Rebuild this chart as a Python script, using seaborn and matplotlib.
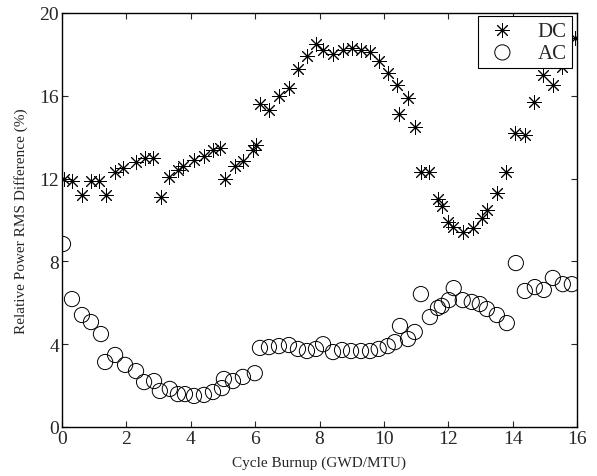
import numpy as np
import pandas as pd
import matplotlib
matplotlib.use("Agg")
import matplotlib.pyplot as plt
import seaborn as sns

dc_x = [0.06, 0.31, 0.62, 0.90, 1.15, 1.37, 1.65, 1.89, 2.30, 2.58, 2.83, 3.07, 3.32, 3.60, 3.76,
        4.10, 4.41, 4.69, 4.91, 5.06, 5.37, 5.62, 5.93, 6.02, 6.15, 6.43, 6.74, 7.05, 7.33, 7.61,
        7.89, 8.11, 8.42, 8.73, 9.01, 9.29, 9.57, 9.84, 10.12, 10.40, 10.47, 10.75, 10.96, 11.15,
        11.40, 11.68, 11.80, 11.99, 12.14, 12.45, 12.76, 13.04, 13.20, 13.51, 13.79, 14.07, 14.38,
        14.66, 14.94, 15.25, 15.53, 15.95]
dc_y = [12.0, 11.9, 11.2, 11.9, 11.9, 11.2, 12.3, 12.5, 12.8, 13.0, 13.0, 11.1, 12.1, 12.4, 12.6,
        12.9, 13.1, 13.4, 13.5, 12.0, 12.6, 12.85, 13.4, 13.6, 15.6, 15.3, 16.0, 16.4, 17.3, 17.9,
        18.5, 18.2, 18.0, 18.2, 18.3, 18.2, 18.1, 17.7, 17.1, 16.5, 15.1, 15.9, 14.5, 12.3,
        12.3, 11.0, 10.7, 9.9, 9.66, 9.4, 9.6, 10.1, 10.5, 11.3, 12.3, 14.2, 14.1,
        15.7, 17.0, 16.5, 17.4, 18.8]

ac_x = [0.03, 0.31, 0.62, 0.90, 1.21, 1.34, 1.65, 1.96, 2.30, 2.55, 2.86, 3.04, 3.35, 3.60, 3.82,
        4.10, 4.41, 4.69, 4.97, 5.03, 5.31, 5.62, 5.99, 6.15, 6.43, 6.74, 7.05, 7.33, 7.61, 7.89,
        8.11, 8.42, 8.70, 8.98, 9.29, 9.57, 9.84, 10.12, 10.34, 10.50, 10.75, 10.96, 11.15, 11.43,
        11.68, 11.80, 12.02, 12.17, 12.45, 12.73, 12.98, 13.20, 13.51, 13.82, 14.10, 14.38, 14.69,
        14.97, 15.25, 15.56, 15.84]
ac_y = [8.84, 6.18, 5.41, 5.07, 4.49, 3.14, 3.48, 3.0, 2.7, 2.17, 2.22, 1.74, 1.84, 1.59, 1.59,
        1.5, 1.55, 1.69, 1.88, 2.32, 2.22, 2.42, 2.6, 3.82, 3.86, 3.91, 3.96, 3.77, 3.67, 3.77,
        4.0, 3.62, 3.72, 3.67, 3.67, 3.67, 3.77, 3.91, 4.1, 4.88, 4.25, 4.59, 6.42, 5.31,
        5.75, 5.85, 6.13, 6.71, 6.13, 6.04, 5.94, 5.7, 5.41, 5.02, 7.92, 6.57, 6.76,
        6.62, 7.2, 6.9, 6.9]

x_ticks = [0, 2, 4, 6, 8, 10, 12, 14, 16]
y_ticks = [0, 4, 8, 12, 16, 20]

sns.set_style("ticks")
plt.rcParams['font.family'] = ['Liberation Serif', 'DejaVu Serif']

fig = plt.figure(figsize=(5.97, 4.77), dpi=100)
ax = fig.add_axes([62/597, 1-428/477, (577-62)/597, (428-14)/477])

dc = pd.DataFrame({"x": dc_x, "y": dc_y})
ac = pd.DataFrame({"x": ac_x, "y": ac_y})

sns.scatterplot(data=dc, x="x", y="y", ax=ax, marker=(8, 2, 0), s=100,
                color="black", linewidth=0.7, label="DC", zorder=3)
sns.scatterplot(data=ac, x="x", y="y", ax=ax, marker="o", s=120,
                facecolors="none", edgecolor="black", linewidth=0.7, label="AC", zorder=3)

ax.set_xlim(0, 16)
ax.set_ylim(0, 20)
ax.set_xticks(x_ticks)
ax.set_yticks(y_ticks)
ax.set_xticklabels([str(t) for t in x_ticks], fontsize=14)
ax.set_yticklabels([str(t) for t in y_ticks], fontsize=14)
ax.tick_params(direction="in", length=4, width=0.8, top=True, right=True, pad=2)
for sp in ax.spines.values():
    sp.set_visible(True)
    sp.set_linewidth(1.0)
    sp.set_color("black")

ax.set_xlabel("Cycle Burnup (GWD/MTU)", fontsize=11, labelpad=6)
ax.set_ylabel("Relative Power RMS Difference (%)", fontsize=11, labelpad=8)

leg = ax.legend(loc="upper right", fontsize=15, frameon=True, fancybox=False,
                edgecolor="black", framealpha=1, borderpad=0.25, handletextpad=0.8,
                labelspacing=0.12, borderaxespad=0.0, handlelength=1.8,
                bbox_to_anchor=((572-62)/515, 1-3/414))
leg.get_frame().set_linewidth(0.8)

fig.savefig("out.png", dpi=100)
